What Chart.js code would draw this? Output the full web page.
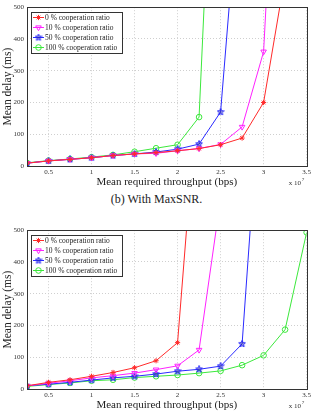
<!DOCTYPE html>
<html>
<head>
<meta charset="utf-8">
<script src="https://cdn.jsdelivr.net/npm/chart.js@4.4.1/dist/chart.umd.min.js"></script>
<style>
  body { margin: 0; background: #fff; width: 313px; height: 418px; position: relative; overflow: hidden; }
  .plot { position: absolute; left: 0; width: 313px; height: 190px; }
  #caption { position: absolute; top: 192px; left: 0; width: 313px; text-align: center; font: 12px 'Liberation Serif', serif; color: #222; }
</style>
</head>
<body>
<div class="plot" style="top:0"><canvas id="delay-maxsnr"></canvas></div>
<div id="caption">(b) With MaxSNR.</div>
<div class="plot" style="top:223px"><canvas id="delay-lower"></canvas></div>
<script>
// x values, in units of 10^7 bps
const throughput = [0.25, 0.5, 0.75, 1, 1.25, 1.5, 1.75, 2, 2.25, 2.5, 2.75, 3, 3.25, 3.5]
const seriesNames = [
  '0 % cooperation ratio',
  '10 % cooperation ratio',
  '50 % cooperation ratio',
  '100 % cooperation ratio'
]
const xTicks = [0.5, 1, 1.5, 2, 2.5, 3, 3.5]
const yTicks = [0, 100, 200, 300, 400, 500]

// upper plot: (b) With MaxSNR (mean delay, ms)
const maxsnrCoop0 = [9, 16, 21, 26, 33, 38, 42, 48, 55, 67, 88, 200, 600]
const maxsnrCoop10 = [9, 16, 21, 26, 33, 38, 40, 48, 55, 68, 123, 360, 1650]
const maxsnrCoop50 = [9, 16, 21, 26, 33, 38, 44, 53, 69, 170, 1000]
const maxsnrCoop100 = [10, 17, 22, 28, 35, 45, 56, 67, 154, 1650]

// lower plot (mean delay, ms)
const lowerCoop0 = [10, 21, 29, 40, 52, 67, 89, 146, 1000]
const lowerCoop10 = [10, 18, 26, 35, 42, 50, 61, 73, 123, 600]
const lowerCoop50 = [10, 15, 21, 28, 35, 40, 47, 56, 62, 72, 142, 1100]
const lowerCoop100 = [8, 14, 19, 26, 29, 36, 40, 44, 50, 57, 75, 106, 187, 493]

function pentagram(color, size) {
  const c = document.createElement('canvas')
  c.width = size
  c.height = size
  const g = c.getContext('2d')
  const r = size / 2
  g.beginPath()
  for (let k = 0; k < 10; k++) {
    const a = -Math.PI / 2 + (k * Math.PI) / 5
    const rr = k % 2 ? r * 0.42 : r - 0.5
    g.lineTo(r + rr * Math.cos(a), r + rr * Math.sin(a))
  }
  g.closePath()
  g.fillStyle = 'rgba(30, 30, 150, 0.45)'
  g.fill()
  g.strokeStyle = color
  g.lineWidth = 1
  g.stroke()
  return c
}

const styles = [
  { color: '#ff2a2a', pointStyle: 'star', pointRadius: 2.6, rotation: 0, fill: '#ff2a2a' },
  { color: '#ff22ff', pointStyle: 'triangle', pointRadius: 3.2, rotation: 180, fill: 'rgba(0,0,0,0)' },
  { color: '#2a2aff', pointStyle: pentagram('#2a2aff', 8), pointRadius: 3.5, rotation: 0, fill: '#2a2aff' },
  { color: '#3ce83c', pointStyle: 'circle', pointRadius: 2.8, rotation: 0, fill: 'rgba(0,0,0,0)' }
]

function makeDatasets(seriesList) {
  return seriesList.map((values, i) => ({
    label: seriesNames[i],
    data: values.map((v, j) => ({ x: throughput[j], y: v })),
    borderColor: styles[i].color,
    backgroundColor: styles[i].color,
    borderWidth: 1,
    pointStyle: styles[i].pointStyle,
    pointRadius: styles[i].pointRadius,
    pointRotation: styles[i].rotation,
    pointBorderColor: styles[i].color,
    pointBackgroundColor: styles[i].fill,
    pointBorderWidth: 1,
    tension: 0
  }))
}

// legend box drawn inside the plot, top-left, like the matlab one
const insideLegend = {
  id: 'insideLegend',
  afterDraw(chart) {
    const ctx = chart.ctx
    const area = chart.chartArea
    const x0 = Math.round(area.left) + 4
    const y0 = Math.round(area.top) + 5
    ctx.save()
    ctx.fillStyle = '#fff'
    ctx.fillRect(x0, y0, 91, 41)
    ctx.strokeStyle = '#333'
    ctx.lineWidth = 1
    ctx.strokeRect(x0 + 0.5, y0 + 0.5, 91, 41)
    ctx.font = "7.5px 'Liberation Serif', serif"
    ctx.textBaseline = 'middle'
    chart.data.datasets.forEach((ds, i) => {
      const y = y0 + 5.5 + i * 10
      ctx.strokeStyle = ds.borderColor
      ctx.lineWidth = 1
      ctx.beginPath()
      ctx.moveTo(x0 + 2, y)
      ctx.lineTo(x0 + 13, y)
      ctx.stroke()
      ctx.fillStyle = ds.pointBackgroundColor
      Chart.helpers.drawPoint(ctx, {
        pointStyle: ds.pointStyle,
        rotation: ds.pointRotation,
        radius: ds.pointRadius,
        borderWidth: 1
      }, x0 + 7.5, y)
      ctx.fillStyle = '#222'
      ctx.fillText(ds.label, x0 + 14, y + 0.5)
    })
    ctx.restore()
  }
}

// frame around the plot and the x 10^7 multiplier
const frame = {
  id: 'frame',
  afterDraw(chart) {
    const ctx = chart.ctx
    const a = chart.chartArea
    ctx.save()
    ctx.strokeStyle = '#333'
    ctx.lineWidth = 1
    ctx.strokeRect(Math.round(a.left) + 0.5, Math.round(a.top) + 0.5, Math.round(a.right - a.left), Math.round(a.bottom - a.top))
    ctx.fillStyle = '#333'
    ctx.textBaseline = 'middle'
    ctx.font = "7px 'Liberation Serif', serif"
    ctx.fillText('x 10', a.right - 18, a.bottom + 17)
    ctx.font = "5px 'Liberation Serif', serif"
    ctx.fillText('7', a.right - 5, a.bottom + 14)
    ctx.restore()
  }
}

function makeChart(id, seriesList) {
  const ctx = document.getElementById(id).getContext('2d')
  return new Chart(ctx, {
    type: 'line',
    data: { datasets: makeDatasets(seriesList) },
    plugins: [frame, insideLegend],
    options: {
      responsive: true,
      maintainAspectRatio: false,
      animation: false,
      layout: { padding: { top: 6, right: 6, left: 0, bottom: 0 } },
      plugins: { legend: { display: false }, tooltip: { enabled: false } },
      scales: {
        x: {
          type: 'linear',
          min: 0.25,
          max: 3.5,
          afterBuildTicks: (scale) => {
            scale.ticks = xTicks.map((v) => ({ value: v }))
          },
          afterFit: (scale) => {
            scale.height = 24
          },
          grid: { color: '#cfcfcf', drawTicks: false },
          border: { display: false, dash: [1, 2] },
          ticks: {
            padding: 2,
            maxRotation: 0,
            color: '#333',
            font: { family: "'Liberation Serif', serif", size: 7 },
            callback: (v) => String(v)
          },
          title: {
            display: true,
            text: 'Mean required throughput (bps)',
            color: '#222',
            padding: { top: 0, bottom: 1 },
            font: { family: "'Liberation Serif', serif", size: 11 }
          }
        },
        y: {
          min: 0,
          max: 500,
          afterBuildTicks: (scale) => {
            scale.ticks = yTicks.map((v) => ({ value: v }))
          },
          afterFit: (scale) => {
            scale.width = 27
          },
          grid: { color: '#cfcfcf', drawTicks: false },
          border: { display: false, dash: [1, 2] },
          ticks: {
            padding: 3,
            color: '#333',
            font: { family: "'Liberation Serif', serif", size: 7 },
            callback: (v) => String(v)
          },
          title: {
            display: true,
            text: 'Mean delay (ms)',
            color: '#222',
            padding: { top: 1, bottom: 0 },
            font: { family: "'Liberation Serif', serif", size: 11.5 }
          }
        }
      }
    }
  })
}

const chartMaxsnr = makeChart('delay-maxsnr', [maxsnrCoop0, maxsnrCoop10, maxsnrCoop50, maxsnrCoop100])
const chartLower = makeChart('delay-lower', [lowerCoop0, lowerCoop10, lowerCoop50, lowerCoop100])
</script>
</body>
</html>
